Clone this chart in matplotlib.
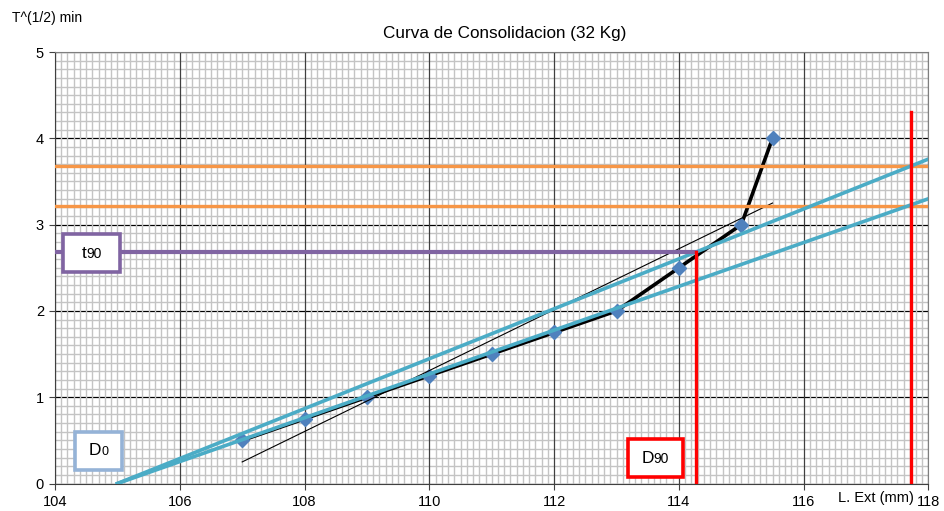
import matplotlib.pyplot as plt
from matplotlib.patches import Rectangle
from matplotlib.offsetbox import TextArea, HPacker, AnnotationBbox
from matplotlib.ticker import MultipleLocator

plt.rcParams['font.family'] = ['Liberation Sans', 'DejaVu Sans']

# datos de la curva
lectura = [107, 108, 109, 110, 111, 112, 113, 114, 115, 115.5]
raiz_t = [0.5, 0.75, 1.0, 1.25, 1.5, 1.75, 2.0, 2.5, 3.0, 4.0]

# recta auxiliar fina
aux_x = [107, 115.5]
aux_y = [0.25, 3.25]

# rectas cyan (metodo de Taylor)
recta1_x = [105, 118]
recta1_y = [0, 3.76]
recta2_x = [105, 118]
recta2_y = [0, 3.3]

# horizontales naranjas
nar_x = [104, 118]
nar1_y = [3.68, 3.68]
nar2_y = [3.21, 3.21]

# t90 y D90
t90_x = [104, 114.28]
t90_y = [2.68, 2.68]
d90_x = [114.28, 114.28]
d90_y = [0, 2.68]
d90b_x = [117.72, 117.72]
d90b_y = [0, 4.3]

fig = plt.figure(figsize=(9.44, 5.11), dpi=100)
ax = fig.add_axes([0.05826, 0.0538, 0.92532, 0.8444])

ax.set_xlim(104, 118)
ax.set_ylim(0, 5)
ax.xaxis.set_major_locator(MultipleLocator(2))
ax.yaxis.set_major_locator(MultipleLocator(1))
ax.xaxis.set_minor_locator(MultipleLocator(0.1))
ax.yaxis.set_minor_locator(MultipleLocator(0.1))

ax.set_axisbelow(True)
ax.grid(which='minor', color='#C4C4C4', lw=1.0)
ax.grid(which='major', axis='x', color='#404040', lw=0.9)
ax.grid(which='major', axis='y', color='black', lw=0.9)
ax.yaxis.set_zorder(0.4)

ax.tick_params(which='minor', length=0)
ax.tick_params(which='major', direction='out', length=4, labelsize=10.5,
               color='#404040', pad=4)
for s in ax.spines.values():
    s.set_color('#7F7F7F')
ax.spines['left'].set_color('#404040')
ax.spines['bottom'].set_color('#404040')

# serie de datos
ax.plot(lectura, raiz_t, color='black', lw=2.6, zorder=3)
ax.plot(lectura, raiz_t, ls='none', marker='D', ms=7, color='#4F81BD', zorder=4)
ax.plot(aux_x, aux_y, color='black', lw=0.8, zorder=5)

ax.plot(nar_x, nar1_y, color='#F79646', lw=2.4, zorder=5)
ax.plot(nar_x, nar2_y, color='#F79646', lw=2.4, zorder=5)

ax.plot(recta1_x, recta1_y, color='#4BACC6', lw=2.6, zorder=6)
ax.plot(recta2_x, recta2_y, color='#4BACC6', lw=2.6, zorder=6)

ax.plot(t90_x, t90_y, color='#8064A2', lw=3, zorder=7)
ax.plot(d90_x, d90_y, color='#FF0000', lw=2.4, zorder=7)
ax.plot(d90b_x, d90b_y, color='#FF0000', lw=2.4, zorder=7)


def caja(x0, y0, x1, y1, borde, letra, sub, tam_sub):
    ax.add_patch(Rectangle((x0, y0), x1 - x0, y1 - y0, fc='white', ec=borde,
                           lw=2.6, zorder=8))
    txt = HPacker(children=[TextArea(letra, textprops=dict(size=12.5)),
                            TextArea(sub, textprops=dict(size=tam_sub))],
                  align='baseline', pad=0, sep=0)
    ab = AnnotationBbox(txt, ((x0 + x1) / 2, (y0 + y1) / 2), frameon=False,
                        zorder=9)
    ax.add_artist(ab)


caja(104.13, 2.45, 105.04, 2.89, '#8064A2', 't', '90', 10)
caja(104.32, 0.16, 105.08, 0.6, '#95B3D7', 'D', '0', 9)
caja(113.18, 0.07, 114.06, 0.51, '#FF0000', 'D', '90', 10)

fig.text(0.535, 0.9354, 'Curva de Consolidacion (32 Kg)', ha='center',
         va='center', fontsize=12.3)
fig.text(0.0127, 0.965, 'T^(1/2) min', ha='left', va='center', fontsize=10)
fig.text(0.968, 0.0254, 'L. Ext (mm)', ha='right', va='center', fontsize=10.5)

fig.savefig('out.png', dpi=100)
